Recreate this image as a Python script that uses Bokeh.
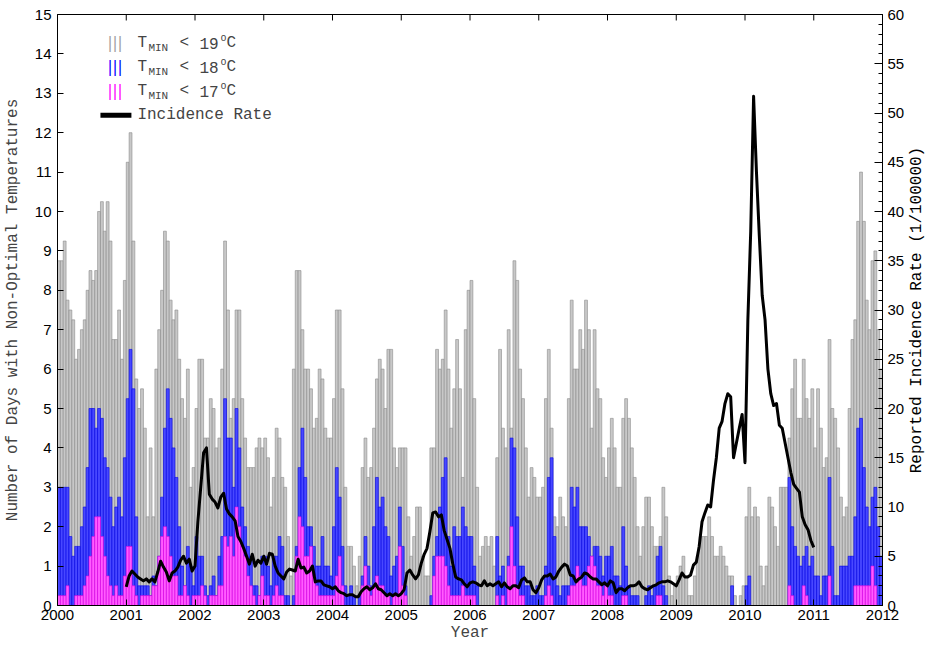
import math
import numpy as np
from bokeh.plotting import figure
from bokeh.layouts import row
from bokeh.models import ColumnDataSource, Range1d, LinearAxis, FixedTicker, Label, BoxAnnotation
from bokeh.core.properties import value
from bokeh.embed import file_html
from bokeh.resources import INLINE

START_YEAR = 2000
END_YEAR = 2012
PERIODS_PER_YEAR = 24
LINE_START_YEAR = 2001
DAYS_MAX = 15
RATE_MAX = 60

# Number of days per period with T_MIN < 19 C (one row per year, 2000..2011)
tmin19_days = [
    8.75, 8.75, 9.25, 7.75, 7.5, 7.25, 6.25, 6.5, 7.0, 7.25, 8.0, 8.5, 8.25, 8.5, 10.0, 10.25, 9.5, 10.25, 9.25, 6.75, 6.75, 7.5, 6.25, 8.25,
    11.25, 12.0, 9.25, 5.75, 5.0, 5.5, 4.5, 2.25, 4.0, 2.25, 6.0, 7.0, 8.0, 9.5, 9.25, 7.75, 7.25, 7.5, 6.25, 5.25, 4.75, 6.0, 3.0, 3.5,
    5.0, 6.25, 6.25, 4.25, 4.25, 5.25, 5.0, 4.0, 4.25, 6.0, 9.25, 7.5, 4.75, 5.25, 7.5, 7.5, 5.25, 4.25, 3.5, 3.5, 3.5, 4.0, 4.25, 4.0,
    4.25, 3.75, 2.5, 3.25, 4.5, 4.25, 3.25, 3.0, 1.75, 0.75, 6.0, 8.5, 8.5, 7.0, 6.0, 6.0, 5.5, 4.5, 4.75, 6.0, 5.75, 4.5, 4.25, 4.25,
    5.25, 7.5, 7.5, 5.5, 3.0, 1.5, 1.5, 1.0, 0.5, 1.25, 3.5, 4.25, 3.25, 3.5, 4.5, 5.75, 6.25, 6.0, 5.0, 6.5, 6.5, 4.0, 3.5, 4.0,
    4.0, 4.0, 2.25, 1.25, 1.75, 2.5, 2.5, 1.25, 0.75, 0.75, 4.0, 4.0, 6.5, 6.0, 6.25, 7.5, 6.0, 4.5, 5.5, 6.75, 5.5, 3.25, 7.0, 8.0,
    8.25, 5.25, 3.0, 1.25, 1.5, 1.75, 1.5, 1.75, 1.0, 3.75, 6.5, 4.5, 4.0, 7.0, 4.5, 8.75, 8.25, 6.0, 5.25, 4.0, 2.75, 3.5, 3.25, 2.75,
    2.75, 3.0, 5.25, 6.5, 4.5, 2.25, 2.0, 2.75, 2.25, 2.0, 5.25, 7.75, 6.0, 6.0, 7.0, 6.5, 7.75, 7.0, 4.5, 7.0, 5.5, 5.25, 3.75, 3.25,
    4.0, 4.75, 4.0, 3.0, 3.0, 4.75, 5.25, 4.75, 4.0, 3.25, 2.0, 1.25, 2.0, 2.75, 2.75, 2.0, 1.5, 1.5, 1.75, 3.0, 2.25, 0.75, 0.25, 0.5,
    0.75, 1.0, 1.25, 0.75, 0.25, 0.25, 0.75, 1.25, 1.75, 1.75, 1.75, 2.25, 1.75, 1.25, 1.25, 1.5, 1.25, 1.0, 0.75, 0.75, 0.25, 0.0, 0.25, 0.5,
    2.25, 3.0, 2.25, 2.5, 2.25, 1.0, 0.5, 1.0, 2.75, 2.5, 2.0, 1.5, 3.0, 3.0, 3.0, 4.25, 5.5, 6.25, 4.75, 4.75, 6.25, 5.25, 4.75, 5.5,
    4.0, 5.5, 4.5, 3.5, 3.75, 6.75, 5.0, 4.75, 4.0, 2.75, 2.25, 2.5, 5.0, 6.75, 7.25, 9.75, 11.0, 9.75, 7.75, 7.0, 8.75, 9.0, 7.0, 6.0,
]

# Number of days per period with T_MIN < 18 C
tmin18_days = [
    3.0, 3.0, 3.0, 3.0, 1.75, 1.25, 1.5, 1.5, 2.0, 2.5, 3.5, 5.0, 5.0, 4.5, 5.0, 4.75, 3.75, 3.5, 2.75, 2.0, 2.5, 2.75, 2.25, 3.75,
    5.25, 6.5, 5.5, 2.25, 0.5, 0.5, 0.5, 0.5, 0.25, 0.75, 0.5, 1.25, 2.75, 4.5, 5.5, 4.75, 4.0, 3.25, 2.0, 1.0, 0.5, 1.5, 1.0, 0.5,
    1.75, 1.25, 1.25, 0.5, 0.25, 0.5, 0.75, 0.25, 1.25, 1.75, 5.25, 4.25, 4.25, 3.0, 5.0, 4.0, 2.5, 2.0, 1.5, 1.25, 0.5, 0.5, 0.25, 1.25,
    1.25, 1.0, 0.5, 1.25, 1.25, 1.75, 1.5, 0.25, 0.25, 0.0, 0.25, 1.5, 3.5, 4.5, 3.25, 2.0, 2.0, 1.5, 1.0, 1.0, 1.75, 1.0, 1.0, 0.75,
    2.0, 3.5, 2.75, 1.5, 0.5, 0.25, 0.5, 0.25, 0.0, 0.25, 0.75, 1.75, 1.0, 0.5, 2.0, 3.25, 2.5, 2.75, 2.0, 1.75, 0.75, 1.0, 1.25, 2.5,
    1.5, 0.5, 0.0, 0.0, 0.0, 0.0, 0.0, 0.0, 0.0, 0.0, 0.25, 1.25, 1.75, 2.5, 3.25, 3.75, 1.75, 1.0, 2.0, 1.75, 1.75, 2.5, 2.0, 1.75,
    1.75, 1.0, 0.5, 0.0, 0.0, 0.0, 0.0, 0.0, 0.0, 1.75, 0.75, 1.0, 0.5, 1.25, 4.25, 4.0, 2.25, 1.0, 1.0, 0.5, 0.5, 0.25, 0.25, 0.5,
    0.25, 0.25, 1.0, 3.25, 3.75, 1.75, 0.5, 0.25, 0.5, 0.5, 0.5, 3.0, 2.5, 3.0, 2.0, 2.0, 2.0, 1.75, 1.25, 1.5, 1.5, 1.25, 0.75, 1.25,
    1.25, 1.5, 0.75, 0.75, 0.5, 2.0, 1.0, 0.5, 0.25, 0.25, 0.25, 0.0, 0.0, 0.25, 0.5, 0.25, 0.5, 1.25, 1.5, 0.5, 0.25, 0.0, 0.0, 0.0,
    0.0, 0.0, 0.0, 0.0, 0.0, 0.0, 0.0, 0.0, 0.0, 0.0, 0.0, 0.0, 0.0, 0.0, 0.0, 0.0, 0.0, 0.0, 0.0, 0.5, 0.0, 0.0, 0.0, 0.0,
    0.5, 0.75, 0.0, 0.0, 0.0, 0.0, 0.0, 0.0, 0.0, 0.0, 0.0, 0.0, 0.0, 0.0, 0.0, 3.25, 2.0, 1.5, 1.25, 1.0, 1.25, 1.5, 1.0, 1.25,
    0.75, 0.75, 0.25, 0.75, 0.75, 3.25, 1.5, 0.25, 0.25, 1.0, 1.0, 1.0, 1.25, 1.25, 2.25, 4.5, 4.75, 3.5, 2.5, 2.0, 2.75, 3.0, 2.0, 1.25,
]

# Number of days per period with T_MIN < 17 C
tmin17_days = [
    0.25, 0.25, 0.25, 0.5, 0.0, 0.0, 0.25, 0.25, 0.25, 0.5, 0.75, 1.25, 1.75, 2.25, 2.25, 1.75, 1.25, 0.75, 0.5, 0.25, 0.5, 0.25, 0.25, 0.75,
    1.5, 1.5, 0.5, 0.25, 0.0, 0.25, 0.25, 0.25, 0.25, 0.5, 0.5, 1.25, 1.75, 2.0, 1.75, 1.25, 0.75, 0.75, 0.25, 0.25, 0.5, 0.25, 0.0, 0.25,
    0.25, 0.25, 0.5, 0.25, 0.0, 0.25, 0.25, 0.25, 0.5, 0.5, 1.75, 1.5, 1.75, 1.25, 2.5, 2.0, 1.5, 1.25, 0.75, 0.5, 0.25, 0.0, 0.25, 0.75,
    0.25, 0.25, 0.0, 0.25, 0.5, 0.25, 0.25, 0.0, 0.0, 0.0, 0.0, 1.25, 2.25, 2.0, 1.25, 1.25, 1.5, 0.75, 0.5, 0.25, 0.25, 0.25, 0.25, 0.25,
    0.25, 0.75, 1.25, 0.5, 0.0, 0.0, 0.0, 0.0, 0.0, 0.0, 0.5, 1.0, 0.5, 0.25, 0.5, 0.75, 0.5, 0.5, 0.25, 0.25, 0.0, 0.25, 0.25, 1.5,
    0.5, 0.25, 0.0, 0.0, 0.0, 0.0, 0.0, 0.0, 0.0, 0.0, 0.0, 0.75, 1.25, 1.25, 1.25, 1.0, 0.5, 0.25, 0.25, 0.25, 0.25, 0.5, 0.25, 0.25,
    0.25, 0.25, 0.0, 0.0, 0.0, 0.0, 0.0, 0.0, 0.0, 0.25, 0.0, 0.25, 0.0, 1.0, 2.0, 1.0, 0.5, 0.25, 0.25, 0.0, 0.0, 0.0, 0.0, 0.0,
    0.0, 0.0, 0.25, 0.5, 0.25, 0.0, 0.0, 0.0, 0.0, 0.0, 0.25, 0.5, 0.5, 1.0, 0.75, 0.5, 0.5, 1.0, 1.25, 1.0, 0.5, 0.5, 0.25, 0.5,
    0.25, 0.25, 0.0, 0.0, 0.0, 0.25, 0.25, 0.0, 0.0, 0.0, 0.0, 0.0, 0.0, 0.0, 0.0, 0.0, 0.0, 0.25, 0.25, 0.0, 0.0, 0.0, 0.0, 0.0,
    0.0, 0.0, 0.0, 0.0, 0.0, 0.0, 0.0, 0.0, 0.0, 0.0, 0.0, 0.0, 0.0, 0.0, 0.0, 0.0, 0.0, 0.0, 0.0, 0.0, 0.0, 0.0, 0.0, 0.0,
    0.0, 0.0, 0.0, 0.0, 0.0, 0.0, 0.0, 0.0, 0.0, 0.0, 0.0, 0.0, 0.0, 0.0, 0.0, 0.5, 0.25, 0.0, 0.0, 0.0, 0.5, 0.25, 0.0, 0.0,
    0.0, 0.0, 0.0, 0.0, 0.0, 0.75, 0.0, 0.0, 0.0, 0.0, 0.0, 0.0, 0.0, 0.0, 0.5, 0.5, 0.5, 0.5, 0.5, 0.5, 1.0, 0.5, 0.0, 0.0,
]

# Reported incidence rate (per 100000), from 2001 on, same period spacing
incidence_rate = [
    1.9, 3.0, 3.5, 3.2, 2.9, 2.7, 2.5, 2.7, 2.4, 2.7, 2.4, 3.4, 4.5, 3.9, 3.4, 2.5, 3.3, 3.5, 3.9, 4.6, 5.0, 4.3, 4.7, 3.5, 4.0,
    8.5, 12.0, 15.5, 16.0, 11.3, 10.8, 10.5, 9.9, 11.0, 11.4, 9.8, 9.3, 9.0, 8.6, 7.0, 6.5, 5.8, 5.0, 4.2, 5.2, 4.0, 4.6, 4.3, 5.0,
    4.2, 5.3, 5.2, 4.0, 3.3, 3.0, 2.7, 3.4, 3.7, 3.6, 3.5, 4.7, 3.8, 3.9, 3.3, 3.5, 4.0, 2.4, 2.5, 2.5, 2.1, 2.0, 1.9, 1.7,
    1.9, 1.5, 1.3, 1.2, 1.0, 1.1, 1.1, 0.9, 0.9, 1.4, 1.7, 1.9, 1.6, 1.8, 2.2, 1.7, 1.6, 1.3, 1.0, 1.2, 1.0, 1.2, 1.0, 1.2,
    1.6, 3.3, 3.6, 3.1, 2.7, 3.1, 4.3, 5.2, 5.8, 7.5, 9.4, 9.5, 9.0, 9.2, 7.6, 6.7, 5.8, 4.2, 2.9, 2.7, 2.6, 2.2, 1.9, 2.3,
    2.4, 2.3, 2.1, 2.0, 2.5, 2.0, 2.2, 2.0, 2.2, 2.4, 1.9, 2.3, 1.9, 1.7, 2.0, 2.0, 1.8, 2.6, 2.8, 2.4, 2.4, 1.6, 1.3, 1.8,
    2.6, 3.0, 3.0, 3.2, 2.7, 2.9, 3.5, 3.9, 4.2, 4.0, 3.1, 3.0, 2.4, 2.7, 2.9, 3.3, 3.2, 2.9, 2.7, 2.7, 2.4, 2.1, 2.3, 2.0,
    2.5, 2.3, 1.3, 1.7, 1.7, 1.5, 1.8, 2.0, 2.0, 2.1, 2.4, 1.9, 1.7, 1.6, 1.8, 2.0, 2.1, 2.3, 2.4, 2.4, 2.5, 2.4, 2.2, 2.0,
    2.6, 3.3, 2.9, 2.9, 3.1, 4.1, 4.4, 6.0, 8.5, 9.4, 10.2, 10.0, 12.7, 15.0, 18.0, 18.7, 20.5, 21.5, 21.2, 15.0, 16.5, 18.0, 19.4, 14.5,
    29.0, 38.0, 51.7, 44.0, 37.5, 31.5, 29.0, 24.0, 21.5, 20.3, 20.5, 18.3, 18.0, 16.5, 15.0, 13.5, 12.3, 11.9, 11.5, 9.0, 8.2, 7.7, 6.6, 5.9,
]

year_ticks = list(range(START_YEAR, END_YEAR + 1))
day_ticks = list(range(0, DAYS_MAX + 1))
rate_major_ticks = list(range(0, RATE_MAX + 1, 5))
rate_minor_ticks = list(range(0, RATE_MAX + 1))

legend_thresholds = ["19", "18", "17"]
legend_colors = ["#a0a0a0", "#0000ff", "#ff00ff"]
right_axis_title = "Reported Incidence Rate (1/100000)"

# ---------------------------------------------------------------------------
n = len(tmin19_days)
bar_x = START_YEAR + (np.arange(n) + 0.5) / PERIODS_PER_YEAR
bar_w = 1.0 / PERIODS_PER_YEAR
src = ColumnDataSource(dict(x=bar_x, g=tmin19_days, b=tmin18_days, m=tmin17_days))
line_x = LINE_START_YEAR + np.arange(len(incidence_rate)) / PERIODS_PER_YEAR
lsrc = ColumnDataSource(dict(x=line_x, y=incidence_rate))

TICK_FONT = "Liberation Sans"
MONO = "Liberation Mono"

TOTAL_W, H = 927, 644
TITLE_W = 20
W = TOTAL_W - TITLE_W
BL, BR, BT, BB = 57, 24, 14, 38
frame_w = W - BL - BR
frame_h = H - BT - BB
px_per_year = frame_w / (END_YEAR - START_YEAR)
px_per_day = frame_h / DAYS_MAX

p = figure(width=W, height=H, output_backend="svg", toolbar_location=None,
           x_range=Range1d(START_YEAR, END_YEAR), y_range=Range1d(0, DAYS_MAX),
           min_border_left=BL, min_border_right=BR, min_border_top=BT, min_border_bottom=BB)
p.extra_y_ranges = {"rate": Range1d(0, RATE_MAX)}
p.grid.visible = False
p.outline_line_color = "black"
p.outline_line_width = 1
p.background_fill_color = "white"
p.border_fill_color = "white"

p.vbar(x="x", top="g", width=bar_w, source=src, fill_color="#c8c8c8", line_color="#8a8a8a", line_width=0.6)
p.vbar(x="x", top="b", width=bar_w, source=src, fill_color="#4848ff", line_color="#0000e8", line_width=0.6)
p.vbar(x="x", top="m", width=bar_w, source=src, fill_color="#ff5cff", line_color="#e000e0", line_width=0.6)
p.line(x="x", y="y", source=lsrc, y_range_name="rate", line_color="black", line_width=3, line_join="round")

# ticks along the top edge (mirror of the year ticks, no labels)
top_tick_len = 6 / px_per_day
p.segment(x0=year_ticks, x1=year_ticks, y0=[DAYS_MAX] * len(year_ticks),
          y1=[DAYS_MAX - top_tick_len] * len(year_ticks), line_color="black", line_width=1)

# axes
xa = p.xaxis[0]
xa.ticker = FixedTicker(ticks=year_ticks, minor_ticks=[])
xa.major_tick_in = 6
xa.major_tick_out = 0
xa.major_label_standoff = 4
xa.major_label_text_font = TICK_FONT
xa.major_label_text_font_size = "15px"
xa.major_label_text_color = "black"
xa.axis_label = "Year"
xa.axis_label_text_font = MONO
xa.axis_label_text_font_size = "16px"
xa.axis_label_text_font_style = "normal"
xa.axis_label_standoff = 1
xa.axis_line_color = "black"

ya = p.yaxis[0]
ya.ticker = FixedTicker(ticks=day_ticks, minor_ticks=[])
ya.major_tick_in = 6
ya.major_tick_out = 0
ya.major_label_standoff = 6
ya.major_label_text_font = TICK_FONT
ya.major_label_text_font_size = "15px"
ya.major_label_text_color = "black"
ya.axis_label = "Number of Days with Non-Optimal Temperatures"
ya.axis_label_text_font = MONO
ya.axis_label_text_font_size = "16px"
ya.axis_label_text_font_style = "normal"
ya.axis_label_standoff = 10
ya.axis_line_color = "black"

ra = LinearAxis(y_range_name="rate", ticker=FixedTicker(ticks=rate_major_ticks, minor_ticks=rate_minor_ticks))
ra.major_tick_in = 8
ra.major_tick_out = 0
ra.minor_tick_in = 4
ra.minor_tick_out = 0
ra.major_label_standoff = 5
ra.major_label_text_font = TICK_FONT
ra.major_label_text_font_size = "15px"
ra.major_label_text_color = "black"
ra.axis_line_color = "black"
p.add_layout(ra, "right")

# legend (built from text so the subscripts / superscripts can be shown)
def yrs(px):
    return START_YEAR + px / px_per_year

def days_from_top(px):
    return DAYS_MAX - px / px_per_day

SW_X = yrs(50)
TXT_X = yrs(80)
ROW_Y = [days_from_top(29), days_from_top(53), days_from_top(77)]
SUB = 5 / px_per_day
SUP = 5 / px_per_day
for lab, col, ry in zip(legend_thresholds, legend_colors, ROW_Y):
    p.add_layout(Label(x=SW_X, y=ry, text="|||", text_font="DejaVu Sans", text_font_size="15px",
                       text_color=col, text_baseline="middle"))
    p.add_layout(Label(x=TXT_X, y=ry, text="T", text_font=MONO, text_font_size="16px",
                       text_baseline="middle"))
    p.add_layout(Label(x=TXT_X, x_offset=11, y=ry - SUB, text="MIN", text_font=MONO,
                       text_font_size="11px", text_baseline="middle"))
    p.add_layout(Label(x=TXT_X, x_offset=42, y=ry, text="<", text_font=MONO, text_font_size="16px",
                       text_baseline="middle"))
    p.add_layout(Label(x=TXT_X, x_offset=62, y=ry, text=lab, text_font=MONO, text_font_size="16px",
                       text_baseline="middle"))
    p.add_layout(Label(x=TXT_X, x_offset=83, y=ry + SUP, text="o", text_font=MONO, text_font_size="10px",
                       text_baseline="middle"))
    p.add_layout(Label(x=TXT_X, x_offset=89, y=ry, text="C", text_font=MONO, text_font_size="16px",
                       text_baseline="middle"))

LINE_ROW_Y = days_from_top(101)
half = 2.5 / px_per_day
p.add_layout(BoxAnnotation(left=yrs(43), right=yrs(74), bottom=LINE_ROW_Y - half, top=LINE_ROW_Y + half,
                           fill_color="black", fill_alpha=1.0, line_color=None))
p.add_layout(Label(x=TXT_X, y=LINE_ROW_Y, text="Incidence Rate", text_font=MONO, text_font_size="16px",
                   text_baseline="middle"))

# narrow strip on the right carrying the right-hand axis title (reads bottom to top)
t = figure(width=TITLE_W, height=H, output_backend="svg", toolbar_location=None,
           x_range=Range1d(0, 1), y_range=Range1d(0, DAYS_MAX),
           min_border_left=0, min_border_right=0, min_border_top=BT, min_border_bottom=BB)
t.axis.visible = False
t.grid.visible = False
t.outline_line_color = None
t.background_fill_color = "white"
t.border_fill_color = "white"
t.text(x=[0.45], y=[DAYS_MAX / 2], text=[right_axis_title], angle=math.pi / 2,
       text_align="center", text_baseline="middle", text_font=value(MONO),
       text_font_size="16px", text_color="black")

layout = row(p, t, spacing=0)
open("out.html", "w").write(file_html(layout, INLINE))
